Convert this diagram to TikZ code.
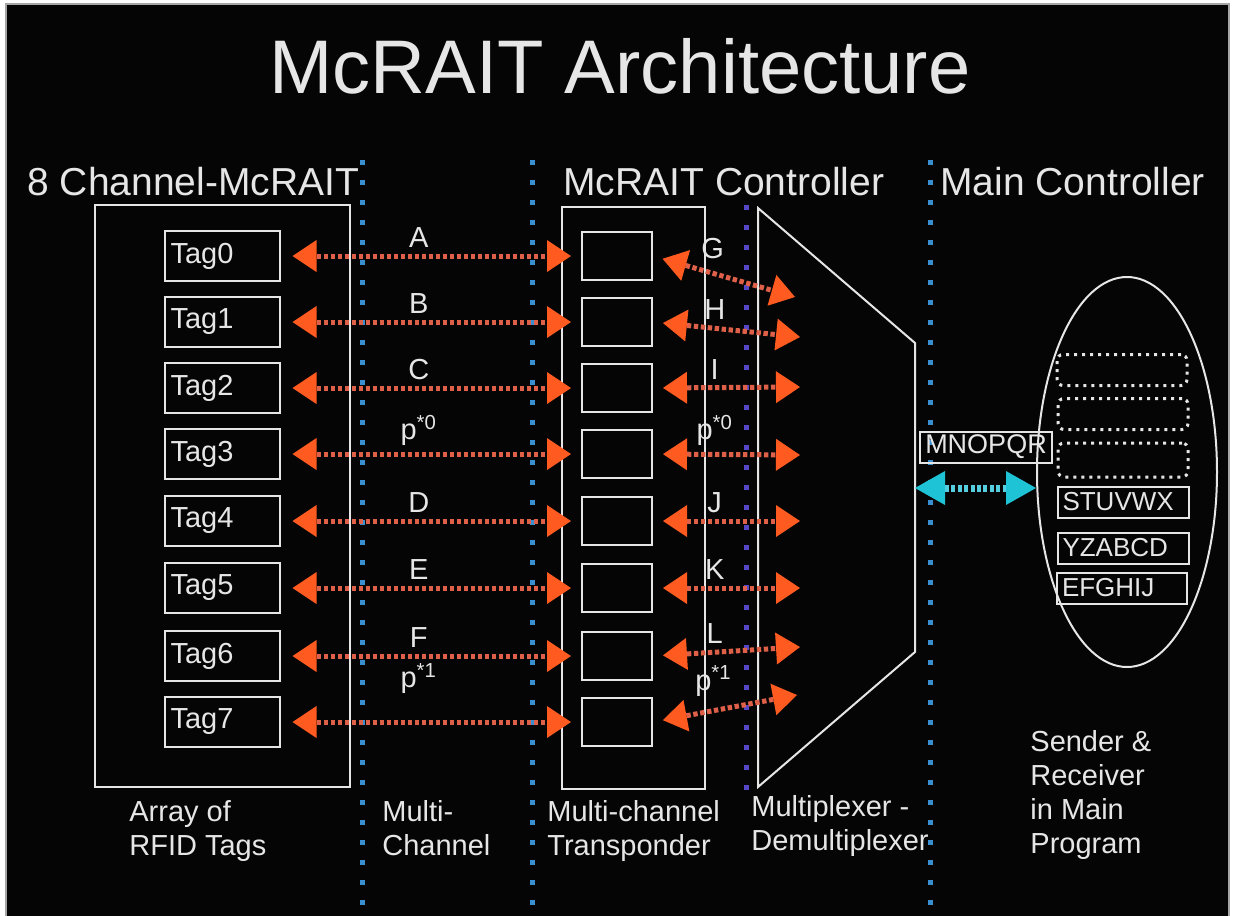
\documentclass[tikz,border=0pt]{standalone}
\usepackage{fontspec}
\setmainfont{Liberation Sans}
\usetikzlibrary{arrows.meta,shapes.geometric}

\definecolor{bgblack}{HTML}{050505}
\definecolor{fg}{HTML}{E6E6E6}
\definecolor{rfdot}{HTML}{DE6048}
\definecolor{rfhead}{HTML}{FF5A1F}
\definecolor{busblue}{HTML}{3A8FD0}
\definecolor{muxblue}{HTML}{5646C8}
\definecolor{linkcyan}{HTML}{1EC3D6}
\definecolor{linkdot}{HTML}{55CFE0}

\newcommand\pstar[1]{p\textsuperscript{*#1}}

\tikzset{
  orangetip/.tip={Triangle[length=12pt,width=16pt,line width=0pt,color=rfhead]},
  cyantip/.tip={Triangle[length=15pt,width=17pt,line width=0pt,color=linkcyan]},
  txt/.style={text=fg, inner sep=0pt},
  wline/.style={draw=fg, line width=1pt},
  tagbox/.style={wline, text=fg, font=\fontsize{14.5}{16}\selectfont, text width=51.5pt,
    inner sep=3pt, minimum height=25pt, align=left},
  slotbox/.style={wline, minimum width=35pt, minimum height=24pt, inner sep=0pt},
  regbox/.style={wline, text=fg, font=\fontsize{13}{15}\selectfont, text width=60.5pt,
    inner sep=2.5pt, minimum height=15.5pt, align=left},
  bufbox/.style={draw=fg, line width=1.5pt, dash pattern=on 1.5pt off 2.5pt,
    rounded corners=3pt, minimum width=65pt, minimum height=15.5pt, inner sep=0pt},
  lbl/.style={text=fg, font=\fontsize{14.5}{16}\selectfont, inner sep=1pt, above=2pt},
  rflink/.style={draw=rfdot, line width=2.5pt, dash pattern=on 2.2pt off 1.3pt,
    arrows={orangetip-orangetip}},
  busline/.style={draw=busblue, line width=2.5pt, dash pattern=on 2.5pt off 7.5pt},
  muxline/.style={draw=muxblue, line width=2.5pt, dash pattern=on 2.5pt off 7.5pt},
  caption/.style={txt, font=\fontsize{14.5}{17}\selectfont, align=left, anchor=north west}
}

\begin{document}
\begin{tikzpicture}[x=0.5pt, y=-0.5pt]
\useasboundingbox (0,0) rectangle (1233,916);
\fill[white] (0,0) rectangle (1233,916);
\fill[bgblack] (6,4) rectangle (1229,916);
\draw[gray!70, line width=0.8pt] (6,916) -- (6,4) -- (1229,4) -- (1229,916);

% title and section headings
\node[txt, font=\fontsize{38}{44}\selectfont, anchor=base] (title) at (620,93) {McRAIT Architecture};
\node[txt, font=\fontsize{19.5}{22}\selectfont, anchor=base west] (hdtags) at (27,195) {8 Channel-McRAIT};
\node[txt, font=\fontsize{19.5}{22}\selectfont, anchor=base west] (hdctrl) at (563,195) {McRAIT Controller};
\node[txt, font=\fontsize{19.5}{22}\selectfont, anchor=base west] (hdmain) at (940,195) {Main Controller};

% separators
\foreach \x in {362,532,930}
  \draw[busline] (\x,160) -- (\x,916);
\draw[muxline] (746,205) -- (746,800);

% tag array, transponder, mux
\draw[wline] (95,205) rectangle (350,787);
\draw[wline] (562,207) rectangle (705,789);
\draw[wline] (758,208) -- (915,343) -- (915,652) -- (758,787) -- cycle;

\foreach \i/\y/\l/\ls/\r/\rs/\mx/\my in {
  0/256/A/0/G/3/795/297, 1/322/B/0/H/0/800/337,
  2/388/C/0/I/0/800/387, 3/454/{\pstar0}/0/{\pstar0}/0/800/455,
  4/521/D/0/J/0/800/521, 5/588/E/0/K/0/800/588,
  6/656/F/0/L/0/800/647, 7/722/{\pstar1}/10/{\pstar1}/3/797/695}{
  \node[tagbox] (tag\i) at (222,\y) {Tag\i};
  \node[slotbox] (slot\i) at (617,\y) {};
  \coordinate (mux\i) at (\mx,\my);
  \draw[rflink, shorten <=6pt, shorten >=5pt] (tag\i.east) -- (slot\i.west)
    node[lbl, pos=0.46, yshift=\ls pt] {\l};
  \draw[rflink, shorten <=5pt] (slot\i.east) -- (mux\i)
    node[lbl, pos=0.42, yshift=\rs pt] {\r};
}

% main controller side
\node[wline, text=fg, font=\fontsize{13.5}{15}\selectfont, minimum width=66pt,
  minimum height=15.5pt, inner sep=1.5pt] (mnop) at (986,447) {MNOPQR};
\node[ellipse, wline, minimum width=90pt, minimum height=195pt, inner sep=0pt] (mainprog) at (1127,472) {};
\node[bufbox] (buf0) at (1122,370) {};
\node[bufbox] (buf1) at (1123,414) {};
\node[bufbox, minimum height=17pt] (buf2) at (1123,460) {};
\node[regbox] (reg0) at (1123,502) {STUVWX};
\node[regbox] (reg1) at (1123,548) {YZABCD};
\node[regbox, text width=60pt] (reg2) at (1122,588) {EFGHIJ};

\coordinate (lnk) at (915,488);
\draw[draw=linkdot, line width=3.5pt, dash pattern=on 2pt off 1.2pt, arrows={cyantip-cyantip}]
  (lnk) -- (lnk -| mainprog.west);

% captions
\node[caption] (captags) at (129,800) {Array of\\RFID Tags};
\node[caption] (capchan) at (382,800) {Multi-\\Channel};
\node[caption] (captrans) at (547,800) {Multi-channel\\Transponder};
\node[caption] (capmux) at (751,795) {Multiplexer -\\Demultiplexer};
\node[caption] (capmain) at (1030,730) {Sender \&\\Receiver\\in Main\\Program};
\end{tikzpicture}
\end{document}
